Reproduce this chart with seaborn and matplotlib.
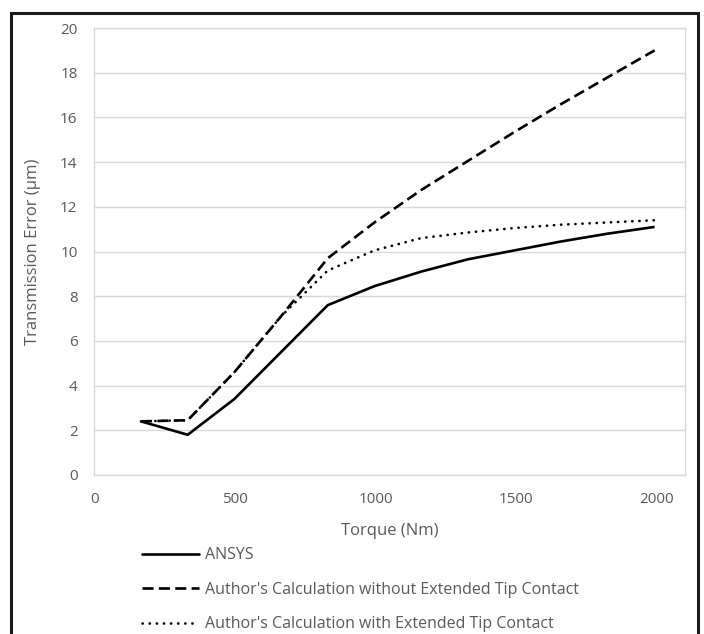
import matplotlib
matplotlib.use("Agg")
import matplotlib.pyplot as plt
import matplotlib.patches as mpatches
import seaborn as sns
import pandas as pd

# Torque load steps (Nm)
torque = [166, 332, 498, 664, 830, 996, 1162, 1328, 1494, 1660, 1826, 1992]

# Transmission error (µm) for each method
ansys = [2.4, 1.8, 3.4, 5.5, 7.6, 8.45, 9.1, 9.65, 10.05, 10.45, 10.8, 11.1]
without_etc = [2.4, 2.45, 4.6, 7.1, 9.7, 11.3, 12.75, 14.05, 15.35, 16.6, 17.8, 19.0]
with_etc = [2.4, 2.45, 4.6, 7.1, 9.15, 10.05, 10.6, 10.85, 11.05, 11.2, 11.3, 11.4]

series_names = [
    "ANSYS",
    "Author's Calculation without Extended Tip Contact",
    "Author's Calculation with Extended Tip Contact",
]

y_ticks = list(range(0, 21, 2))
x_ticks = [0, 500, 1000, 1500, 2000]

df = pd.DataFrame({
    "Torque": torque * 3,
    "TE": ansys + without_etc + with_etc,
    "Series": [series_names[0]] * len(torque)
    + [series_names[1]] * len(torque)
    + [series_names[2]] * len(torque),
})

sns.set_theme(style="white")
plt.rcParams["font.family"] = ["Open Sans", "DejaVu Sans"]

text_grey = "#595959"
grid_grey = "#d9d9d9"

fig = plt.figure(figsize=(7.04, 6.34), dpi=100)
ax = fig.add_axes([94.3 / 704, 1 - 475 / 634, (685 - 94.3) / 704, (475 - 28) / 634])

sns.lineplot(
    data=df, x="Torque", y="TE", hue="Series", palette=["black"] * 3,
    hue_order=series_names, ax=ax, legend=False, linewidth=1.9, sort=False,
)

dash_pattern = (0, (4.2, 2.0))
dot_pattern = (0, (0.1, 2.6))
styles = [
    dict(linestyle="-", dash_capstyle="butt"),
    dict(linestyle=dash_pattern, dash_capstyle="butt"),
    dict(linestyle=dot_pattern, dash_capstyle="round"),
]
lines = ax.get_lines()
for ln, st in zip(lines, styles):
    ln.set_linestyle(st["linestyle"])
    ln.set_dash_capstyle(st["dash_capstyle"])
    ln.set_solid_capstyle("butt")
    ln.set_solid_joinstyle("miter")

ax.set_xlim(0, 2100)
ax.set_ylim(0, 20)
ax.set_xticks(x_ticks)
ax.set_yticks(y_ticks)
ax.grid(axis="y", color=grid_grey, linewidth=1.0)
ax.grid(axis="x", visible=False)
ax.set_axisbelow(True)
for sp in ax.spines.values():
    sp.set_color(grid_grey)
    sp.set_linewidth(1.0)

ax.tick_params(axis="both", length=0, labelsize=11, colors=text_grey)
ax.tick_params(axis="x", pad=12)
ax.tick_params(axis="y", pad=12)
ax.set_xlabel("Torque (Nm)", fontsize=12, color=text_grey, labelpad=12)
ax.set_ylabel("Transmission Error (µm)", fontsize=12, color=text_grey, labelpad=14)

# Legend below the plot area
handles = [
    plt.Line2D([], [], color="black", linewidth=1.9, linestyle=st["linestyle"],
               dash_capstyle=st["dash_capstyle"])
    for st in styles
]
leg = fig.legend(
    handles, series_names, loc="upper left",
    bbox_to_anchor=(136 / 704, 1 - 541 / 634), frameon=False,
    fontsize=11.5, handlelength=3.55, handletextpad=0.35, labelspacing=1.15,
    borderaxespad=0,
)
for t in leg.get_texts():
    t.set_color(text_grey)

# Outer chart frame
frame = mpatches.Rectangle(
    (10.5 / 704, -0.05), (698 - 10.5) / 704, 1.05 - 12.5 / 634,
    transform=fig.transFigure, fill=False, edgecolor="#1a1a1a", linewidth=2.2,
)
fig.patches.append(frame)

fig.savefig("out.png", dpi=100)
